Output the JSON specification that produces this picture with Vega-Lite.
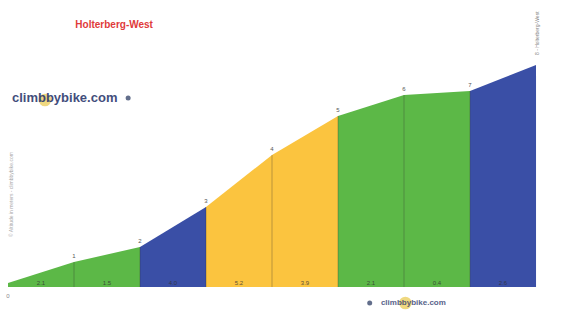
{
  "$schema": "https://vega.github.io/schema/vega-lite/v6.json",
  "width": 564,
  "height": 287,
  "autosize": "none",
  "padding": {"left": 8, "top": 0, "right": 0, "bottom": 26},
  "background": "white",
  "config": {"view": {"stroke": null}, "font": "Liberation Sans"},
  "datasets": {
    "profile": [
      {"seg": 1, "km": 0, "elev": 4, "cls": "g"}, {"seg": 1, "km": 1, "elev": 25, "cls": "g"},
      {"seg": 2, "km": 1, "elev": 25, "cls": "g"}, {"seg": 2, "km": 2, "elev": 40, "cls": "g"},
      {"seg": 3, "km": 2, "elev": 40, "cls": "b"}, {"seg": 3, "km": 3, "elev": 80, "cls": "b"},
      {"seg": 4, "km": 3, "elev": 80, "cls": "y"}, {"seg": 4, "km": 4, "elev": 132, "cls": "y"},
      {"seg": 5, "km": 4, "elev": 132, "cls": "y"}, {"seg": 5, "km": 5, "elev": 171, "cls": "y"},
      {"seg": 6, "km": 5, "elev": 171, "cls": "g"}, {"seg": 6, "km": 6, "elev": 192, "cls": "g"},
      {"seg": 7, "km": 6, "elev": 192, "cls": "g"}, {"seg": 7, "km": 7, "elev": 196, "cls": "g"},
      {"seg": 8, "km": 7, "elev": 196, "cls": "b"}, {"seg": 8, "km": 8, "elev": 222, "cls": "b"}
    ],
    "marks": [
      {"km": 1, "elev": 25, "lab": "1"}, {"km": 2, "elev": 40, "lab": "2"},
      {"km": 3, "elev": 80, "lab": "3"}, {"km": 4, "elev": 132, "lab": "4"},
      {"km": 5, "elev": 171, "lab": "5"}, {"km": 6, "elev": 192, "lab": "6"},
      {"km": 7, "elev": 196, "lab": "7"}
    ],
    "grades": [
      {"km": 0.5, "elev": 0, "lab": "2.1"}, {"km": 1.5, "elev": 0, "lab": "1.5"}, {"km": 2.5, "elev": 0, "lab": "4.0"},
      {"km": 3.5, "elev": 0, "lab": "5.2"}, {"km": 4.5, "elev": 0, "lab": "3.9"}, {"km": 5.5, "elev": 0, "lab": "2.1"},
      {"km": 6.5, "elev": 0, "lab": "0.4"}, {"km": 7.5, "elev": 0, "lab": "2.6"}
    ]
  },
  "encoding": {
    "x": {"field": "km", "type": "quantitative", "scale": {"domain": [0, 8.545], "nice": false, "zero": false}, "axis": null},
    "y": {"field": "elev", "type": "quantitative", "scale": {"domain": [0, 287], "nice": false}, "axis": null}
  },
  "layer": [
    {
      "data": {"name": "profile"},
      "mark": {"type": "area", "interpolate": "linear"},
      "encoding": {
        "y": {"field": "elev", "type": "quantitative", "stack": null, "scale": {"domain": [0, 287], "nice": false}, "axis": null},
        "detail": {"field": "seg", "type": "nominal"},
        "color": {"field": "cls", "type": "nominal", "legend": null,
          "scale": {"domain": ["g", "b", "y"], "range": ["#5cb847", "#3a4fa6", "#fbc43f"]}}
      }
    },
    {
      "data": {"name": "marks"},
      "mark": {"type": "rule", "color": "#2a2a2a", "opacity": 0.3, "strokeWidth": 1},
      "encoding": {"y": {"datum": 0}, "y2": {"field": "elev"}}
    },
    {
      "data": {"name": "marks"},
      "mark": {"type": "text", "fontSize": 6, "color": "#555", "dy": -6},
      "encoding": {"text": {"field": "lab"}}
    },
    {
      "data": {"name": "grades"},
      "mark": {"type": "text", "fontSize": 6, "color": "#333", "dy": -4, "opacity": 0.8},
      "encoding": {"text": {"field": "lab"}}
    },
    {
      "data": {"values": [{"km": 0}]},
      "mark": {"type": "rule", "color": "#c0c0c0", "strokeWidth": 1.5},
      "encoding": {"y": {"datum": 280}, "y2": {"datum": -12}}
    },
    {
      "data": {"values": [{"km": 0}, {"km": 8.545}]},
      "mark": {"type": "rule", "color": "#111", "strokeWidth": 2},
      "encoding": {"x": {"datum": 0}, "x2": {"datum": 8.545}, "y": {"datum": 0}}
    },
    {
      "data": {"values": [{"km": 0, "elev": -9, "lab": "0"}]},
      "mark": {"type": "text", "fontSize": 6, "color": "#888"},
      "encoding": {"text": {"field": "lab"}}
    },
    {
      "data": {"values": [{"km": 0.05, "elev": 50, "lab": "© Altitude in meters - climbbybike.com"}]},
      "mark": {"type": "text", "fontSize": 5, "color": "#aaa", "angle": 270, "align": "left", "baseline": "middle"},
      "encoding": {"text": {"field": "lab"}}
    },
    {
      "data": {"values": [{"km": 8.02, "elev": 232, "lab": "8 - Holterberg-West"}]},
      "mark": {"type": "text", "fontSize": 5, "color": "#888", "angle": 270, "align": "left", "baseline": "middle"},
      "encoding": {"text": {"field": "lab"}}
    },
    {
      "data": {"values": [{"km": 1.02, "elev": 262, "lab": "Holterberg-West"}]},
      "mark": {"type": "text", "fontSize": 10, "fontWeight": "bold", "color": "#e03a3a", "align": "left", "baseline": "middle"},
      "encoding": {"text": {"field": "lab"}}
    },
    {
      "data": {"values": [{"km": 0.56, "elev": 187}, {"km": 6.02, "elev": -16}]},
      "mark": {"type": "point", "filled": true, "color": "#e8c84a", "opacity": 0.7, "size": 160},
      "encoding": {}
    },
    {
      "data": {"values": [{"km": 0.06, "elev": 189, "lab": "climbbybike.com"}]},
      "mark": {"type": "text", "fontSize": 13, "fontWeight": "bold", "color": "#2e3a6e", "align": "left", "baseline": "middle", "opacity": 0.9},
      "encoding": {"text": {"field": "lab"}}
    },
    {
      "data": {"values": [{"km": 1.82, "elev": 189}, {"km": 5.48, "elev": -16}]},
      "mark": {"type": "point", "filled": true, "color": "#3b4a6e", "opacity": 0.8, "size": 25},
      "encoding": {}
    },
    {
      "data": {"values": [{"km": 5.65, "elev": -16, "lab": "climbbybike.com"}]},
      "mark": {"type": "text", "fontSize": 8, "fontWeight": "bold", "color": "#2e3a6e", "align": "left", "baseline": "middle", "opacity": 0.8},
      "encoding": {"text": {"field": "lab"}}
    }
  ]
}
